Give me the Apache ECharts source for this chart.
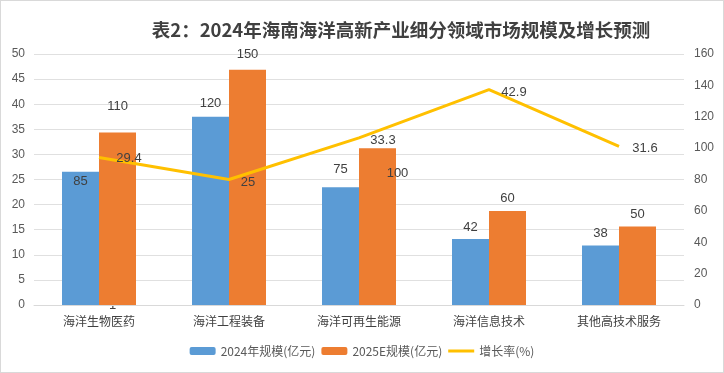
<!DOCTYPE html>
<html><head><meta charset="utf-8">
<script src="https://cdn.jsdelivr.net/npm/echarts@6/dist/echarts.min.js"></script>
<style>html,body{margin:0;padding:0;background:#fff}#c{width:724px;height:373px;box-sizing:border-box;border:1px solid #d9d9d9}</style>
</head><body><div id="c"></div>
<script>
const categories = ['海洋生物医药','海洋工程装备','海洋可再生能源','海洋信息技术','其他高技术服务'];
const size2024 = [85,120,75,42,38];
const size2025 = [110,150,100,60,50];
const growth = [29.4,25,33.3,42.9,31.6];
const leftTicks = {min:0,max:50,interval:5};
const rightTicks = {min:0,max:160,interval:20};

// label placement offsets (style only)
const off2024 = [[0,24],[0,1],[0,-3],[0,3],[0,3]];
const off2025 = [[0,-8],[0,3],[20,44],[0,6],[0,6]];
const offGrowth = [[30,14],[19,15],[24,15],[25,15],[26,15]];

const font = 'Microsoft YaHei, "Noto Sans CJK SC", sans-serif';
const chart = echarts.init(document.getElementById('c'));
chart.setOption({
  animation:false,
  title:{text:'表2：2024年海南海洋高新产业细分领域市场规模及增长预测',left:395,textAlign:'center',top:15,
    textStyle:{fontSize:18.5,fontWeight:'bold',color:'#404040',fontFamily:font}},
  legend:{bottom:10,left:'center',itemWidth:26,itemHeight:8,itemGap:6,
    textStyle:{color:'#595959',fontSize:12,fontFamily:font},
    data:['2024年规模(亿元)','2025E规模(亿元)',{name:'增长率(%)',icon:'path://M0,0L26,0L26,3L0,3Z'}]},
  grid:{left:33,right:39,top:53,bottom:67,outerBoundsMode:'none',containLabel:false},
  xAxis:{type:'category',data:categories,axisTick:{show:false},
    axisLine:{lineStyle:{color:'#d9d9d9'}},
    axisLabel:{color:'#404040',fontSize:12,fontFamily:font,margin:10}},
  yAxis:[
    {type:'value',min:leftTicks.min,max:leftTicks.max,interval:leftTicks.interval,
     axisLabel:{color:'#595959',fontSize:12,margin:9},splitLine:{lineStyle:{color:'#e0e0e0'}}},
    {type:'value',min:rightTicks.min,max:rightTicks.max,interval:rightTicks.interval,
     axisLabel:{color:'#595959',fontSize:12,margin:10},splitLine:{show:false}}
  ],
  series:[
    {name:'2024年规模(亿元)',type:'bar',yAxisIndex:1,barWidth:37,barGap:'0%',
     itemStyle:{color:'#5B9BD5'},
     data:size2024.map((v,i)=>({value:v,label:{offset:off2024[i]}})),
     label:{show:true,position:'top',color:'#404040',fontSize:13,distance:8}},
    {name:'2025E规模(亿元)',type:'bar',yAxisIndex:1,barWidth:37,
     itemStyle:{color:'#ED7D31'},
     data:size2025.map((v,i)=>({value:v,label:{offset:off2025[i]}})),
     label:{show:true,position:'top',color:'#404040',fontSize:13,distance:12}},
    {name:'增长率(%)',type:'line',yAxisIndex:0,symbol:'circle',symbolSize:0,showSymbol:true,
     lineStyle:{color:'#FFC000',width:3},itemStyle:{color:'#FFC000'},
     data:growth.map((v,i)=>({value:v,label:{offset:offGrowth[i]}})),
     label:{show:true,position:'top',color:'#404040',fontSize:13,distance:6}}
  ],
  graphic:[{type:'text',left:108,top:298,style:{text:'1',fill:'#404040',fontSize:13}}]
});
</script></body></html>
